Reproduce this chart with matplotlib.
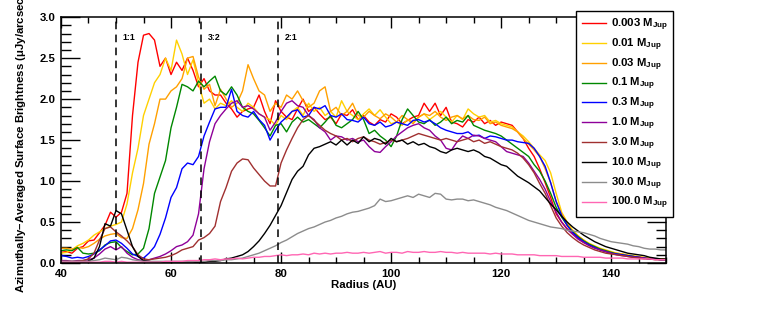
import numpy as np
import matplotlib
matplotlib.use("Agg")
import matplotlib.pyplot as plt
from matplotlib.ticker import MultipleLocator

plt.rcParams['font.family'] = ['Liberation Sans', 'DejaVu Sans']
plt.rcParams['font.weight'] = 'bold'
plt.rcParams['mathtext.fontset'] = 'custom'
plt.rcParams['mathtext.rm'] = 'Liberation Sans:bold'
plt.rcParams['mathtext.bf'] = 'Liberation Sans:bold'
plt.rcParams['mathtext.it'] = 'Liberation Sans:bold'

### Données (profils radiaux, un point par AU de 40 à 150)
radius = np.arange(40, 151)

masses = ["0.003", "0.01", "0.03", "0.1", "0.3", "1.0", "3.0", "10.0", "30.0", "100.0"]
colors = ["#ff0000", "#ffd000", "#ffa000", "#008800", "#0000ff",
          "#8e0099", "#a03030", "#000000", "#8c8c8c", "#ff66b3"]

sb_0003 = [0.13, 0.14, 0.12, 0.18, 0.20, 0.27, 0.28, 0.37, 0.46, 0.62,
           0.56, 0.62, 0.85, 1.80, 2.45, 2.78, 2.80, 2.72, 2.40, 2.50,
           2.30, 2.45, 2.35, 2.50, 2.35, 2.15, 2.25, 2.10, 2.05, 2.05,
           1.95, 1.88, 1.78, 1.85, 1.88, 1.90, 2.05, 1.85, 1.70, 1.98,
           1.85, 1.78, 1.75, 1.88, 2.00, 1.85, 1.90, 1.82, 1.75, 1.78,
           1.70, 1.82, 1.80, 1.87, 1.75, 1.80, 1.72, 1.68, 1.75, 1.72,
           1.82, 1.78, 1.70, 1.74, 1.78, 1.80, 1.95, 1.85, 1.95, 1.80,
           1.90, 1.72, 1.70, 1.66, 1.75, 1.72, 1.78, 1.70, 1.74, 1.68,
           1.72, 1.70, 1.68, 1.60, 1.52, 1.40, 1.30, 1.15, 0.98, 0.80,
           0.60, 0.50, 0.42, 0.36, 0.30, 0.25, 0.22, 0.20, 0.16, 0.14,
           0.12, 0.11, 0.10, 0.09, 0.07, 0.07, 0.06, 0.05, 0.05, 0.05,
           0.04]

sb_001 = [0.12, 0.13, 0.16, 0.21, 0.24, 0.28, 0.34, 0.38, 0.42, 0.45,
          0.47, 0.50, 0.72, 1.10, 1.40, 1.80, 2.00, 2.20, 2.30, 2.50,
          2.35, 2.72, 2.55, 2.30, 2.48, 2.20, 1.95, 2.00, 1.88, 1.95,
          1.92, 1.98, 1.90, 1.85, 1.95, 1.90, 1.82, 1.78, 1.75, 1.68,
          1.80, 1.75, 1.85, 1.90, 1.80, 1.95, 1.85, 1.90, 1.80, 1.85,
          1.78, 1.98, 1.85, 1.80, 1.75, 1.82, 1.88, 1.80, 1.87, 1.78,
          1.70, 1.72, 1.68, 1.75, 1.72, 1.78, 1.82, 1.75, 1.80, 1.85,
          1.78, 1.72, 1.80, 1.75, 1.88, 1.82, 1.78, 1.80, 1.72, 1.74,
          1.70, 1.68, 1.66, 1.60, 1.55, 1.48, 1.40, 1.32, 1.25, 1.10,
          0.85, 0.62, 0.50, 0.40, 0.33, 0.28, 0.24, 0.21, 0.18, 0.16,
          0.14, 0.12, 0.11, 0.10, 0.09, 0.08, 0.07, 0.06, 0.05, 0.05,
          0.04]

sb_003 = [0.18, 0.18, 0.17, 0.19, 0.18, 0.20, 0.24, 0.29, 0.33, 0.35,
          0.36, 0.31, 0.30, 0.42, 0.65, 0.97, 1.45, 1.70, 2.00, 2.00,
          2.10, 2.15, 2.25, 2.50, 2.52, 2.27, 2.12, 2.18, 1.92, 2.12,
          2.00, 1.90, 1.95, 2.10, 2.42, 2.25, 2.10, 2.05, 1.85, 1.95,
          1.90, 2.05, 2.00, 2.10, 1.98, 1.90, 1.95, 2.10, 2.15, 1.85,
          1.90, 1.80, 1.85, 1.95, 1.80, 1.78, 1.85, 1.80, 1.76, 1.82,
          1.78, 1.72, 1.80, 1.75, 1.70, 1.78, 1.82, 1.80, 1.85, 1.78,
          1.74, 1.78, 1.80, 1.76, 1.80, 1.75, 1.74, 1.78, 1.70, 1.72,
          1.68, 1.66, 1.64, 1.60, 1.52, 1.45, 1.38, 1.30, 1.15, 0.98,
          0.75, 0.60, 0.48, 0.39, 0.33, 0.28, 0.23, 0.20, 0.17, 0.15,
          0.13, 0.12, 0.11, 0.09, 0.08, 0.07, 0.06, 0.06, 0.05, 0.05,
          0.04]

sb_01 = [0.15, 0.16, 0.15, 0.19, 0.12, 0.11, 0.12, 0.15, 0.22, 0.25,
         0.26, 0.19, 0.14, 0.10, 0.11, 0.18, 0.42, 0.85, 1.05, 1.25,
         1.65, 1.90, 2.18, 2.15, 2.10, 2.22, 2.15, 2.22, 2.28, 2.10,
         2.05, 2.15, 2.05, 1.90, 1.85, 1.82, 1.74, 1.65, 1.55, 1.68,
         1.70, 1.60, 1.72, 1.78, 1.72, 1.75, 1.70, 1.65, 1.72, 1.80,
         1.68, 1.65, 1.70, 1.75, 1.85, 1.75, 1.58, 1.62, 1.55, 1.50,
         1.42, 1.55, 1.75, 1.88, 1.80, 1.72, 1.70, 1.75, 1.68, 1.72,
         1.78, 1.70, 1.74, 1.72, 1.80, 1.68, 1.65, 1.62, 1.60, 1.58,
         1.55, 1.50, 1.45, 1.40, 1.35, 1.30, 1.20, 1.12, 1.00, 0.85,
         0.68, 0.56, 0.46, 0.38, 0.32, 0.27, 0.23, 0.20, 0.17, 0.15,
         0.13, 0.11, 0.10, 0.09, 0.08, 0.07, 0.06, 0.05, 0.05, 0.04,
         0.04]

sb_03 = [0.09, 0.08, 0.06, 0.07, 0.06, 0.08, 0.11, 0.16, 0.21, 0.27,
         0.28, 0.24, 0.18, 0.11, 0.08, 0.06, 0.12, 0.20, 0.35, 0.55,
         0.80, 0.92, 1.15, 1.22, 1.20, 1.30, 1.55, 1.72, 1.88, 1.90,
         1.90, 2.12, 1.85, 1.80, 1.78, 1.85, 1.75, 1.68, 1.50, 1.62,
         1.72, 1.78, 1.85, 1.87, 1.78, 1.80, 1.90, 1.88, 1.92, 1.80,
         1.78, 1.82, 1.75, 1.74, 1.72, 1.78, 1.70, 1.68, 1.72, 1.66,
         1.68, 1.72, 1.70, 1.68, 1.74, 1.75, 1.72, 1.74, 1.70, 1.65,
         1.62, 1.60, 1.58, 1.58, 1.60, 1.55, 1.56, 1.52, 1.55, 1.54,
         1.52, 1.50, 1.50, 1.48, 1.47, 1.46, 1.40, 1.30, 1.18, 0.98,
         0.75, 0.58, 0.46, 0.37, 0.31, 0.26, 0.22, 0.19, 0.16, 0.14,
         0.12, 0.11, 0.10, 0.09, 0.08, 0.07, 0.06, 0.05, 0.05, 0.04,
         0.04]

sb_1 = [0.03, 0.03, 0.02, 0.03, 0.03, 0.04, 0.06, 0.11, 0.17, 0.20,
        0.16, 0.20, 0.12, 0.07, 0.04, 0.03, 0.04, 0.06, 0.08, 0.11,
        0.15, 0.20, 0.22, 0.26, 0.34, 0.60, 1.15, 1.48, 1.70, 1.80,
        1.88, 1.95, 1.98, 1.90, 1.92, 1.88, 1.82, 1.78, 1.62, 1.72,
        1.85, 1.95, 1.98, 1.92, 1.90, 1.80, 1.75, 1.65, 1.60, 1.50,
        1.55, 1.54, 1.50, 1.52, 1.48, 1.50, 1.42, 1.36, 1.35, 1.42,
        1.48, 1.55, 1.60, 1.65, 1.68, 1.70, 1.65, 1.62, 1.55, 1.50,
        1.40, 1.38, 1.48, 1.55, 1.52, 1.56, 1.55, 1.52, 1.50, 1.48,
        1.42, 1.36, 1.34, 1.32, 1.30, 1.22, 1.12, 1.02, 0.90, 0.75,
        0.62, 0.50, 0.41, 0.35, 0.29, 0.25, 0.21, 0.18, 0.16, 0.14,
        0.12, 0.10, 0.09, 0.08, 0.07, 0.07, 0.06, 0.05, 0.05, 0.04,
        0.04]

sb_3 = [0.02, 0.02, 0.02, 0.02, 0.03, 0.05, 0.12, 0.28, 0.42, 0.44,
        0.38, 0.33, 0.27, 0.20, 0.10, 0.05, 0.04, 0.05, 0.06, 0.07,
        0.09, 0.12, 0.16, 0.18, 0.20, 0.28, 0.31, 0.36, 0.45, 0.75,
        0.92, 1.12, 1.22, 1.27, 1.26, 1.16, 1.08, 1.00, 0.94, 0.94,
        1.22, 1.38, 1.52, 1.65, 1.75, 1.80, 1.74, 1.68, 1.62, 1.58,
        1.55, 1.50, 1.52, 1.48, 1.52, 1.54, 1.50, 1.48, 1.45, 1.47,
        1.50, 1.48, 1.50, 1.52, 1.55, 1.58, 1.56, 1.54, 1.52, 1.50,
        1.52, 1.50, 1.48, 1.50, 1.52, 1.48, 1.50, 1.46, 1.48, 1.45,
        1.42, 1.40, 1.38, 1.34, 1.28, 1.20, 1.10, 0.97, 0.85, 0.70,
        0.55, 0.45, 0.37, 0.31, 0.26, 0.22, 0.19, 0.16, 0.14, 0.12,
        0.11, 0.10, 0.09, 0.08, 0.07, 0.06, 0.05, 0.05, 0.04, 0.04,
        0.04]

sb_10 = [0.00, 0.00, 0.00, 0.00, 0.01, 0.02, 0.06, 0.20, 0.48, 0.45,
         0.64, 0.60, 0.40, 0.20, 0.08, 0.03, 0.02, 0.01, 0.01, 0.00,
         0.00, 0.00, 0.00, 0.00, 0.00, 0.01, 0.01, 0.02, 0.02, 0.03,
         0.05, 0.06, 0.08, 0.10, 0.14, 0.20, 0.27, 0.36, 0.46, 0.58,
         0.70, 0.86, 1.02, 1.12, 1.18, 1.32, 1.40, 1.42, 1.45, 1.48,
         1.44, 1.50, 1.44, 1.50, 1.46, 1.54, 1.48, 1.52, 1.50, 1.45,
         1.52, 1.48, 1.50, 1.45, 1.48, 1.44, 1.46, 1.42, 1.40, 1.36,
         1.34, 1.38, 1.40, 1.38, 1.36, 1.38, 1.35, 1.30, 1.28, 1.24,
         1.20, 1.18, 1.12, 1.06, 1.02, 0.98, 0.93, 0.88, 0.80, 0.72,
         0.65, 0.57, 0.50, 0.44, 0.39, 0.34, 0.30, 0.26, 0.23, 0.20,
         0.18, 0.16, 0.14, 0.12, 0.11, 0.10, 0.09, 0.07, 0.06, 0.05,
         0.05]

sb_30 = [0.02, 0.02, 0.02, 0.02, 0.02, 0.02, 0.03, 0.04, 0.06, 0.05,
         0.04, 0.07, 0.06, 0.04, 0.03, 0.02, 0.02, 0.02, 0.02, 0.02,
         0.02, 0.02, 0.02, 0.02, 0.02, 0.02, 0.02, 0.03, 0.03, 0.03,
         0.04, 0.04, 0.05, 0.06, 0.08, 0.10, 0.12, 0.15, 0.18, 0.21,
         0.25, 0.28, 0.32, 0.36, 0.39, 0.42, 0.44, 0.47, 0.50, 0.52,
         0.55, 0.57, 0.60, 0.62, 0.63, 0.65, 0.67, 0.70, 0.78, 0.75,
         0.76, 0.78, 0.80, 0.82, 0.80, 0.84, 0.82, 0.80, 0.85, 0.84,
         0.78, 0.77, 0.78, 0.78, 0.76, 0.77, 0.75, 0.73, 0.71, 0.68,
         0.66, 0.64, 0.61, 0.58, 0.55, 0.52, 0.50, 0.48, 0.46, 0.44,
         0.43, 0.42, 0.40, 0.39, 0.38, 0.37, 0.35, 0.33, 0.30, 0.28,
         0.26, 0.25, 0.24, 0.23, 0.21, 0.20, 0.18, 0.17, 0.17, 0.16,
         0.16]

sb_100 = [0.01, 0.01, 0.01, 0.01, 0.01, 0.01, 0.01, 0.01, 0.02, 0.02,
          0.01, 0.02, 0.01, 0.01, 0.01, 0.01, 0.01, 0.01, 0.01, 0.02,
          0.02, 0.02, 0.02, 0.03, 0.03, 0.03, 0.04, 0.04, 0.05, 0.04,
          0.05, 0.05, 0.06, 0.05, 0.06, 0.07, 0.07, 0.08, 0.08, 0.09,
          0.10, 0.09, 0.10, 0.10, 0.11, 0.10, 0.12, 0.11, 0.12, 0.11,
          0.12, 0.12, 0.13, 0.12, 0.12, 0.13, 0.12, 0.13, 0.14, 0.12,
          0.13, 0.13, 0.12, 0.14, 0.13, 0.13, 0.14, 0.13, 0.13, 0.14,
          0.13, 0.13, 0.12, 0.13, 0.12, 0.12, 0.12, 0.12, 0.11, 0.12,
          0.11, 0.11, 0.11, 0.10, 0.10, 0.10, 0.10, 0.09, 0.09, 0.09,
          0.09, 0.08, 0.08, 0.08, 0.08, 0.07, 0.07, 0.07, 0.07, 0.06,
          0.06, 0.06, 0.06, 0.05, 0.05, 0.05, 0.05, 0.05, 0.04, 0.04,
          0.04]

profiles = [sb_0003, sb_001, sb_003, sb_01, sb_03, sb_1, sb_3, sb_10, sb_30, sb_100]

# résonances (AU) et leurs étiquettes
res_r = [50.0, 65.5, 79.4]
res_lab = ["1:1", "3:2", "2:1"]


###################################################################
#######################  AFFICHAGE  ###############################
###################################################################
fs = 8.2
fig = plt.figure(figsize=(7.69, 3.30), dpi=100)
ax = fig.add_axes([0.0793, 0.203, 0.787, 0.745])

for m, c, p in zip(masses, colors, profiles):
    ax.plot(radius, p, color=c, lw=1.0, label=r"%s $\mathbf{M_{Jup}}$" % m)

for rr, lab in zip(res_r, res_lab):
    ax.axvline(rr, color="black", lw=1.1, ls=(0, (5, 3.5)))
    ax.text(rr + 1.2, 2.75, lab, fontsize=6.3, fontweight="bold", va="center")

ax.set_xlim(40, 150)
ax.set_ylim(0, 3.0)

# Graduations style IDL
ax.xaxis.set_major_locator(MultipleLocator(20))
ax.xaxis.set_minor_locator(MultipleLocator(5))
ax.yaxis.set_major_locator(MultipleLocator(0.5))
ax.yaxis.set_minor_locator(MultipleLocator(0.1))
ax.tick_params(axis="both", which="both", direction="in", top=True, right=True,
               labelsize=fs, width=1.0)
ax.tick_params(axis="x", which="major", length=8, pad=4)
ax.tick_params(axis="x", which="minor", length=4)
ax.tick_params(axis="y", which="major", length=14, pad=4)
ax.tick_params(axis="y", which="minor", length=7)
ax.yaxis.set_major_formatter(plt.FormatStrFormatter("%.1f"))
for lab in ax.get_xticklabels() + ax.get_yticklabels():
    lab.set_fontweight("bold")
for s in ax.spines.values():
    s.set_linewidth(1.1)

ax.set_xlabel("Radius (AU)", fontsize=fs, fontweight="bold", labelpad=1)
ax.set_ylabel("Azimuthally\u2013Averaged Surface Brightness (\u03bcJy/arcsec$^2$)",
              fontsize=fs, fontweight="bold")
ax.yaxis.set_label_coords(-0.053, 0.5)

leg = fig.legend(loc="upper left", bbox_to_anchor=(0.749, 0.967), borderaxespad=0,
                 fontsize=fs, frameon=True, fancybox=False, edgecolor="black",
                 framealpha=1, handlelength=2.15, handletextpad=0.4,
                 labelspacing=0.3, borderpad=0.5)
leg.get_frame().set_linewidth(1.0)

plt.savefig("out.png", dpi=100)
plt.close()
